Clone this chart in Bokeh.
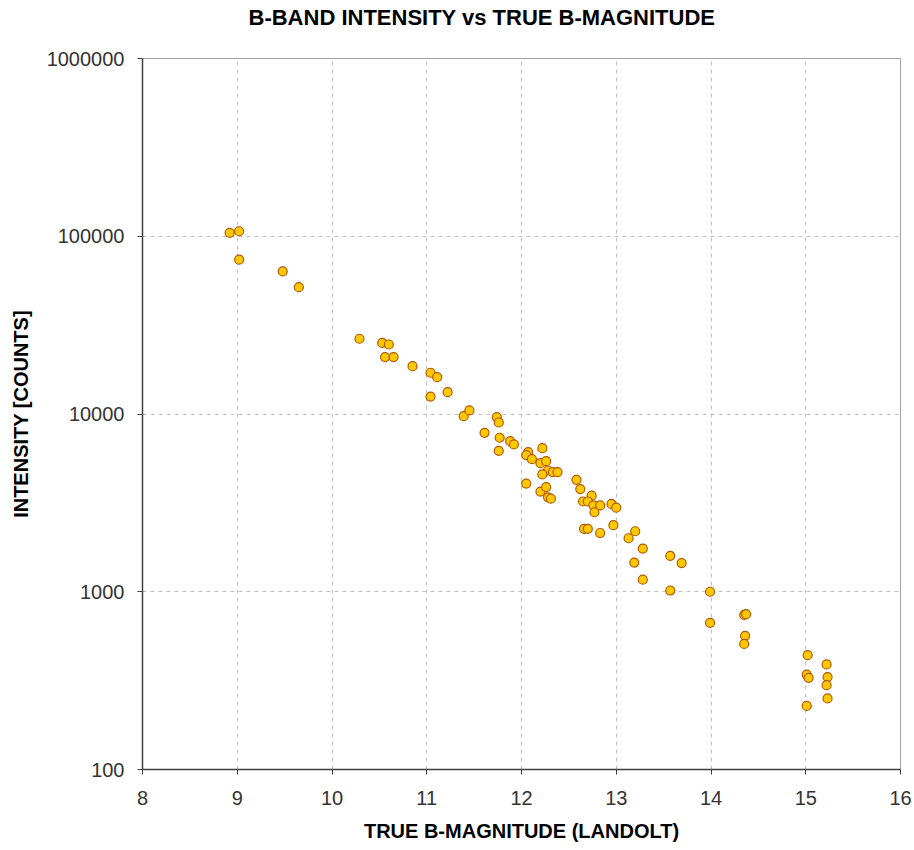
from bokeh.plotting import figure
from bokeh.models import FixedTicker, NumeralTickFormatter, Title, ColumnDataSource, Range1d
from bokeh.embed import file_html
from bokeh.resources import INLINE

b_mag = [8.92, 9.02, 9.02, 9.48, 9.65, 10.29, 10.53, 10.60, 10.56, 10.65,
         10.85, 11.04, 11.11, 11.04, 11.22, 11.39, 11.45, 11.74, 11.76, 11.61,
         11.77, 11.88, 11.92, 11.76, 12.22, 12.07, 12.05, 12.11, 12.20, 12.26,
         12.28, 12.22, 12.33, 12.38, 12.05, 12.20, 12.26, 12.28, 12.31, 12.58,
         12.62, 12.74, 12.65, 12.70, 12.76, 12.83, 12.77, 12.95, 13.00, 12.66,
         12.70, 12.83, 12.97, 13.13, 13.20, 13.28, 13.19, 13.28, 13.57, 13.69,
         13.57, 13.99, 13.99, 14.35, 14.37, 14.36, 14.35, 15.02, 15.22, 15.01,
         15.03, 15.23, 15.22, 15.23, 15.01]
intensity = [104500, 106700, 73800, 63400, 51700, 26500, 25100, 24600, 20900, 20900,
             18580, 17060, 16110, 12540, 13270, 9720, 10470, 9600, 8960, 7840,
             7350, 7030, 6740, 6210, 6420, 6100, 5870, 5570, 5290, 5430,
             4810, 4570, 4710, 4710, 4060, 3660, 3880, 3400, 3340, 4260,
             3780, 3470, 3220, 3220, 3060, 3060, 2800, 3120, 2970, 2260,
             2260, 2140, 2370, 2000, 2190, 1750, 1460, 1170, 1590, 1450,
             1016, 1000, 669, 742, 748, 565, 509, 440, 390, 342,
             328, 331, 298, 251, 228]

x_ticks = [8, 9, 10, 11, 12, 13, 14, 15, 16]
y_ticks = [100, 1000, 10000, 100000, 1000000]

title_text = "B-BAND INTENSITY vs TRUE B-MAGNITUDE"
x_label = "TRUE B-MAGNITUDE (LANDOLT)"
y_label = "INTENSITY [COUNTS]"

p = figure(width=914, height=850, y_axis_type="log",
           x_range=Range1d(8, 16), y_range=Range1d(100, 1000000),
           output_backend="svg", toolbar_location=None,
           min_border_left=142, min_border_right=14,
           min_border_top=58, min_border_bottom=81)
p.title = None
# empty spacer panel between the frame and the title
spacer = Title(text=" ", standoff=10, text_font_size="10px")
p.add_layout(spacer, "above")
t = Title(text=title_text, align="left", offset=106, standoff=8,
          vertical_align="top",
          text_font="Liberation Sans", text_font_size="22px",
          text_font_style="bold", text_color="#000000")
p.add_layout(t, "above")

p.background_fill_color = "white"
p.border_fill_color = "white"
p.outline_line_color = "#a0a0a0"
p.outline_line_width = 1

src = ColumnDataSource(dict(x=b_mag, y=intensity))
p.scatter("x", "y", source=src, size=9, marker="circle",
          fill_color="#FFC800", line_color="#B35900", line_width=1.2)

xa = p.xaxis[0]
ya = p.yaxis[0]
xa.ticker = FixedTicker(ticks=x_ticks, minor_ticks=[])
ya.ticker = FixedTicker(ticks=y_ticks, minor_ticks=[])
ya.formatter = NumeralTickFormatter(format="0")
for ax in (xa, ya):
    ax.axis_line_color = "#404040"
    ax.axis_line_width = 1.5
    ax.major_tick_line_color = "#404040"
    ax.major_tick_out = 5
    ax.major_tick_in = 0
    ax.minor_tick_line_color = None
    ax.major_label_text_font = "Liberation Sans"
    ax.major_label_text_font_size = "20px"
    ax.major_label_text_color = "#333333"
    ax.axis_label_text_font = "Liberation Sans"
    ax.axis_label_text_font_size = "20px"
    ax.axis_label_text_font_style = "bold"
    ax.axis_label_text_color = "#000000"
xa.axis_label = x_label
ya.axis_label = y_label
xa.major_label_standoff = 16
xa.axis_label_standoff = 12
ya.major_label_standoff = 13
ya.axis_label_standoff = 12

for g in (p.xgrid[0], p.ygrid[0]):
    g.grid_line_color = "#c0c0c0"
    g.grid_line_dash = "4 4"
    g.grid_line_width = 1
p.xgrid[0].ticker = FixedTicker(ticks=x_ticks)
p.ygrid[0].ticker = FixedTicker(ticks=y_ticks)

open("out.html", "w").write(file_html(p, INLINE))
